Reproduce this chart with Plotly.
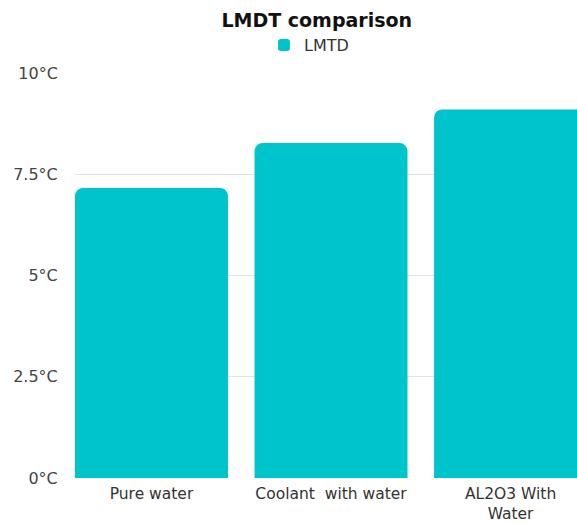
import plotly.graph_objects as go

# LMTD values per working fluid
categories = ["Pure water", "Coolant  with water", "AL2O3 With<br>Water"]
lmtd_values = [7.16, 8.27, 9.1]
y_ticks = [0, 2.5, 5, 7.5, 10]
y_tick_labels = ["0°C", "2.5°C", "5°C", "7.5°C", "10°C"]

teal = "#00C4CC"

fig = go.Figure(
    go.Bar(
        x=categories,
        y=lmtd_values,
        name="LMTD",
        marker=dict(color=teal, line=dict(width=0)),
        width=0.852,
        showlegend=True,
    )
)

fig.update_layout(
    width=577,
    height=524,
    margin=dict(l=75, r=0, t=73, b=46),
    paper_bgcolor="white",
    plot_bgcolor="white",
    barcornerradius=8,
    title=dict(
        text="<b>LMDT comparison</b>",
        x=0.549,
        xref="container",
        xanchor="center",
        y=1 - 20 / 524,
        yref="container",
        yanchor="middle",
        font=dict(family="DejaVu Sans", size=19, color="#111111"),
    ),
    legend=dict(
        orientation="h",
        x=0.5355,
        xref="container",
        xanchor="center",
        y=1 - 45 / 524,
        yref="container",
        yanchor="middle",
        font=dict(family="DejaVu Sans", size=16, color="#333333"),
        itemwidth=30,
    ),
    font=dict(family="DejaVu Sans", size=16, color="#444444"),
)

fig.update_xaxes(
    type="category",
    range=[-0.426, 2.37],
    automargin=False,
    showgrid=False,
    showline=False,
    ticks="outside",
    ticklen=1,
    tickcolor="rgba(0,0,0,0)",
    tickfont=dict(family="DejaVu Sans", size=15.5, color="#333333"),
)

fig.update_yaxes(
    range=[0, 10],
    automargin=False,
    tickvals=y_ticks,
    ticktext=y_tick_labels,
    showgrid=True,
    gridcolor="#e3e3e3",
    gridwidth=1,
    zeroline=False,
    showline=False,
    ticks="outside",
    ticklen=13,
    tickcolor="rgba(0,0,0,0)",
    tickfont=dict(family="DejaVu Sans", size=16, color="#444444"),
)

fig.write_html("out.html")
